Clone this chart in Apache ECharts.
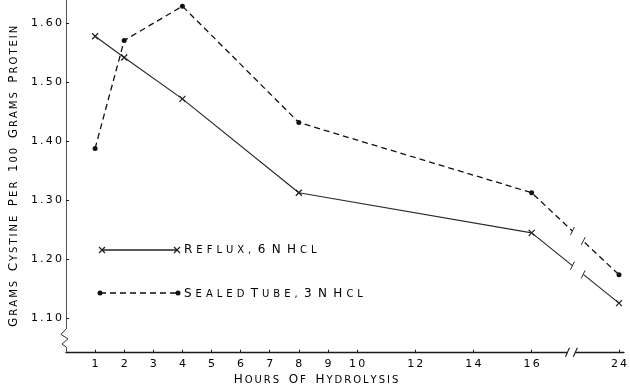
<!DOCTYPE html>
<html>
<head>
<meta charset="utf-8">
<script src="https://cdn.jsdelivr.net/npm/echarts@6/dist/echarts.min.js"></script>
<style>
html,body{margin:0;padding:0;background:#fff;}
#c{width:630px;height:387px;}
</style>
</head>
<body>
<div id="c"></div>
<script>
// ---- data ----
const hours = [1, 2, 4, 8, 16, 24];
const reflux = [1.578, 1.542, 1.472, 1.313, 1.245, 1.126];
const sealedTube = [1.388, 1.571, 1.629, 1.432, 1.313, 1.174];
const xTickHours = [1, 2, 3, 4, 5, 6, 7, 8, 9, 10, 12, 14, 16, 24];
const yTicks = [1.1, 1.2, 1.3, 1.4, 1.5, 1.6];
const seriesNames = ['REFLUX, 6 N HCL', 'SEALED TUBE, 3 N HCL'];
const xTitle = 'HOURS OF HYDROLYSIS';
const yTitle = 'GRAMS CYSTINE PER 100 GRAMS PROTEIN';

// axis compression beyond the break (16 -> 24)
function pos(h) { return h <= 16 ? h : 16 + (h - 16) * 3 / 8; }
function hourAt(p) {
  for (const h of xTickHours) if (Math.abs(pos(h) - p) < 1e-6) return String(h);
  return '';
}
const FONT = 'DejaVu Sans';
const THIN = '\u2009';
// small-caps rich text with letter spacing
function sc(str, gap, sep) {
  sep = sep || THIN;
  return str.split(' ').map(w => {
    const first = w[0], rest = w.slice(1);
    return '{b|' + first + '}' + (rest ? '{s|' + sep + rest.split('').join(sep) + '}' : '');
  }).join('{s|' + gap + '}');
}
const rich = {
  b: { fontSize: 12, fontFamily: FONT, color: '#000' },
  s: { fontSize: 10, fontFamily: FONT, color: '#000' }
};

const chart = echarts.init(document.getElementById('c'), null, { renderer: 'canvas' });
const X = '#1a1a1a';
chart.setOption({
  animation: false,
  backgroundColor: '#fff',
  grid: { left: 55, right: 0, top: 0, bottom: 34.3, containLabel: false },
  xAxis: {
    type: 'value', min: 0, max: 19.17,
    axisLine: { show: true, lineStyle: { color: X, width: 1.3 } },
    splitLine: { show: false },
    axisTick: { show: true, length: 3, inside: true, customValues: xTickHours.map(pos), lineStyle: { color: X } },
    axisLabel: {
      customValues: xTickHours.map(pos),
      formatter: v => hourAt(v).split('').join(THIN),
      fontFamily: FONT, fontSize: 11, color: '#000', margin: 6
    }
  },
  yAxis: {
    type: 'value', min: 1.042, max: 1.6395,
    name: sc(yTitle, '   '), nameLocation: 'middle', nameRotate: 90, nameGap: 31,
    nameTextStyle: { rich: rich },
    axisLine: { show: true, lineStyle: { color: '#555', width: 1 } },
    splitLine: { show: false },
    axisTick: { show: true, length: 3, inside: true, customValues: yTicks, lineStyle: { color: X } },
    axisLabel: {
      customValues: yTicks,
      formatter: v => v.toFixed(2).split('').join(THIN),
      fontFamily: FONT, fontSize: 11, color: '#000', margin: 4
    }
  },
  series: [
    {
      name: seriesNames[0], type: 'line',
      data: hours.map((h, i) => [pos(h), reflux[i]]),
      symbol: 'path://M0,0L10,10M10,0L0,10', symbolSize: 6,
      itemStyle: { color: '#222', borderColor: '#222', borderWidth: 1.3 },
      lineStyle: { color: '#2a2a2a', width: 1.2, type: 'solid' },
      z: 3
    },
    {
      name: seriesNames[1], type: 'line',
      data: hours.map((h, i) => [pos(h), sealedTube[i]]),
      symbol: 'circle', symbolSize: 5,
      itemStyle: { color: '#111' },
      lineStyle: { color: '#111', width: 1.3, type: [6, 4] },
      z: 3
    }
  ]
});

// ---- decorations: axis breaks, legend, x title ----
function P(x, y) { return chart.convertToPixel({ gridIndex: 0 }, [x, y]); }
const g = [];
// x-axis break
const axY = P(0, 1.042)[1];
const bx1 = P(17.23, 1.042)[0], bx2 = P(17.5, 1.042)[0];
g.push({ type: 'rect', shape: { x: bx1, y: axY - 5, width: bx2 - bx1, height: 10 }, style: { fill: '#fff' }, z: 100 });
[bx1, bx2].forEach(x => g.push({ type: 'line', shape: { x1: x - 2, y1: axY + 4, x2: x + 2, y2: axY - 5 }, style: { stroke: X, lineWidth: 1.1 }, z: 101 }));
// data-line break
const lx1 = P(17.4, 1.3)[0], lx2 = P(17.77, 1.3)[0];
g.push({ type: 'rect', shape: { x: lx1, y: 0, width: lx2 - lx1, height: axY - 6 }, style: { fill: '#fff' }, z: 100 });
[reflux, sealedTube].forEach(arr => {
  const a = P(pos(16), arr[4]), b = P(pos(24), arr[5]);
  [lx1, lx2].forEach(x => {
    const y = a[1] + (b[1] - a[1]) * (x - a[0]) / (b[0] - a[0]);
    g.push({ type: 'line', shape: { x1: x - 2, y1: y + 4, x2: x + 2, y2: y - 4 }, style: { stroke: '#333', lineWidth: 1 }, z: 101 });
  });
});
// y-axis break (zigzag)
const ax = P(0, 1.1)[0];
const zy1 = P(0, 1.082)[1], zy2 = P(0, 1.052)[1];
g.push({ type: 'rect', shape: { x: ax - 8, y: zy1, width: 14, height: zy2 - zy1 }, style: { fill: '#fff' }, z: 100 });
const zh = (zy2 - zy1);
g.push({ type: 'polyline', shape: { points: [[ax, zy1], [ax - 5, zy1 + zh * 0.3], [ax + 2, zy1 + zh * 0.55], [ax - 4, zy1 + zh * 0.85], [ax, zy2]] }, style: { stroke: '#333', lineWidth: 1, fill: null }, z: 101 });
// legend
function xMark(cx, cy) {
  return [
    { type: 'line', shape: { x1: cx - 3, y1: cy - 3, x2: cx + 3, y2: cy + 3 }, style: { stroke: '#222', lineWidth: 1.3 }, z: 101 },
    { type: 'line', shape: { x1: cx + 3, y1: cy - 3, x2: cx - 3, y2: cy + 3 }, style: { stroke: '#222', lineWidth: 1.3 }, z: 101 }
  ];
}
const LSEP = THIN + THIN;
g.push({ type: 'line', shape: { x1: 102, y1: 250, x2: 177, y2: 250 }, style: { stroke: '#222', lineWidth: 1.3 }, z: 101 });
g.push(...xMark(102, 250), ...xMark(177, 250));
g.push({ type: 'text', x: 184, y: 250, style: { text: sc(seriesNames[0], '  ', LSEP), rich: rich, verticalAlign: 'middle', align: 'left' }, z: 101 });
g.push({ type: 'line', shape: { x1: 100, y1: 293, x2: 178, y2: 293 }, style: { stroke: '#111', lineWidth: 1.3, lineDash: [6, 4] }, z: 101 });
g.push({ type: 'circle', shape: { cx: 100, cy: 293, r: 2.5 }, style: { fill: '#111' }, z: 101 });
g.push({ type: 'circle', shape: { cx: 178, cy: 293, r: 2.5 }, style: { fill: '#111' }, z: 101 });
g.push({ type: 'text', x: 184, y: 294, style: { text: sc(seriesNames[1], '  ', LSEP), rich: rich, verticalAlign: 'middle', align: 'left' }, z: 101 });
// x title
g.push({ type: 'text', x: 316, y: 380, style: { text: sc(xTitle, '   '), rich: rich, align: 'center', verticalAlign: 'middle' }, z: 101 });
chart.setOption({ graphic: { elements: g } });
</script>
</body>
</html>
